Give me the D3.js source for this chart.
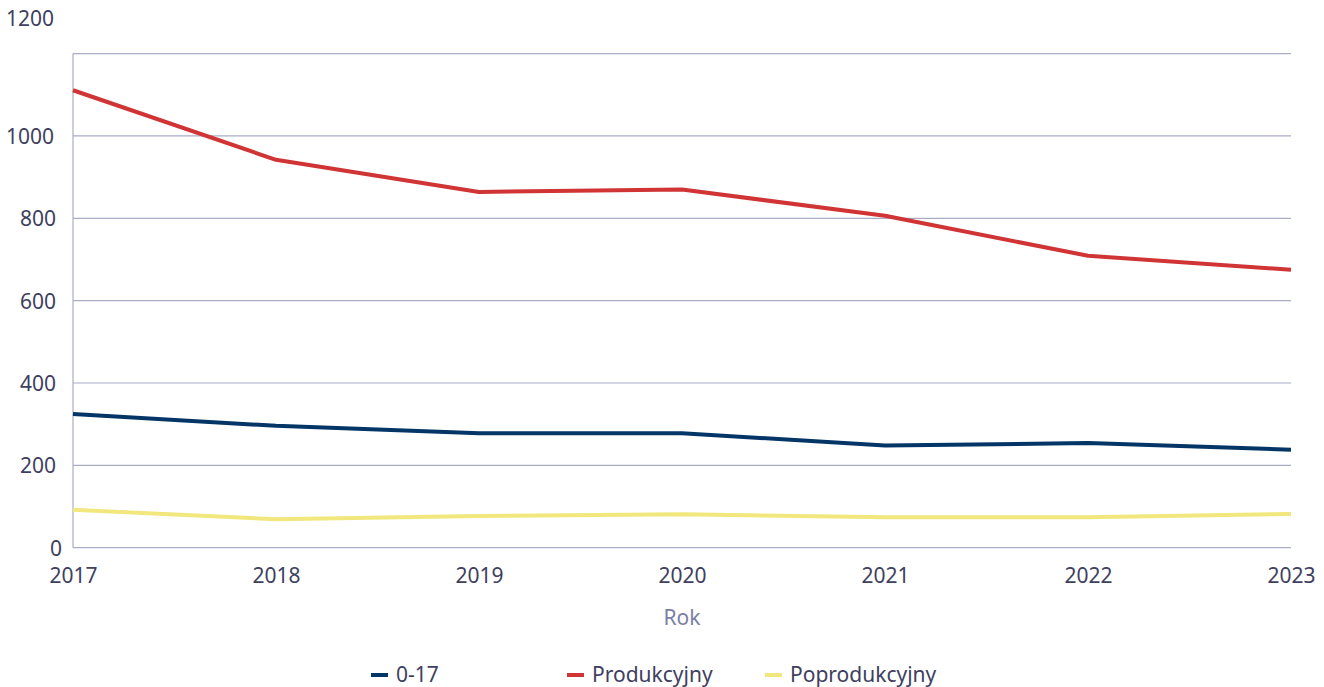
<!DOCTYPE html>
<html>
<head>
<meta charset="utf-8">
<script src="https://cdn.jsdelivr.net/npm/d3@7"></script>
<style>
  body { margin: 0; background: #fff; }
  svg text { font-family: "Noto Sans", "Open Sans", sans-serif; }
</style>
</head>
<body>
<div id="chart"></div>
<script>
// data
const years = ["2017", "2018", "2019", "2020", "2021", "2022", "2023"];
const youth = [325, 296, 278, 278, 248, 254, 238];          // 0-17
const working = [1111, 942, 864, 870, 806, 709, 675];       // Produkcyjny
const retired = [92, 69, 77, 81, 74, 74, 82];               // Poprodukcyjny
const yTicks = [0, 200, 400, 600, 800, 1000, 1200];

const seriesNames = ["0-17", "Produkcyjny", "Poprodukcyjny"];
const seriesValues = [youth, working, retired];
const colors = ["#033566", "#d03434", "#f1e77c"];

const W = 1324, H = 687;
const plotLeft = 73, plotRight = 1291, plotTop = 53.6, plotBottom = 547.7;

let svg = d3.select("#chart").append("svg")
    .attr("width", W)
    .attr("height", H);

let x = d3.scalePoint().domain(years).range([plotLeft, plotRight]);
let y = d3.scaleLinear().domain([0, 1200]).range([plotBottom, plotTop]);

// gridlines
svg.append("g")
    .selectAll("line").data(yTicks).enter().append("line")
        .attr("x1", plotLeft)
        .attr("x2", plotRight)
        .attr("y1", d => y(d))
        .attr("y2", d => y(d))
        .attr("stroke", "#aaacc6")
        .attr("stroke-width", 1.2);

// left axis line
svg.append("line")
    .attr("x1", plotLeft).attr("x2", plotLeft)
    .attr("y1", plotTop).attr("y2", plotBottom)
    .attr("stroke", "#aaacc6")
    .attr("stroke-width", 1.2);

// y axis labels
let yAxis = svg.append("g")
    .attr("transform", `translate(${plotLeft - 17},0)`)
    .call(d3.axisLeft(y).tickValues(yTicks).tickFormat(d3.format("d")).tickSize(0).tickPadding(0));
yAxis.select(".domain").remove();
yAxis.selectAll("text")
    .attr("fill", "#3e405e")
    .style("font-size", "21px")
    .attr("dy", "0.35em")
    .attr("x", d => d === 0 ? 6 : (d >= 1000 ? -2 : 0))
    .attr("y", d => d === 1200 ? 18 - y(1200) : 0);

// x axis labels
let xAxis = svg.append("g")
    .attr("transform", `translate(0,${plotBottom + 20})`)
    .call(d3.axisBottom(x).tickSize(0).tickPadding(0));
xAxis.select(".domain").remove();
xAxis.selectAll("text")
    .attr("fill", "#3e405e")
    .style("font-size", "21px")
    .attr("dy", "0.71em");

svg.append("text")
    .attr("x", (plotLeft + plotRight) / 2)
    .attr("y", 625)
    .attr("text-anchor", "middle")
    .attr("fill", "#7b7fa6")
    .style("font-size", "21px")
    .text("Rok");

// lines
let line = d3.line()
    .x((d, i) => x(years[i]))
    .y(d => y(d));

svg.append("g")
    .selectAll("path").data(seriesValues).enter().append("path")
        .attr("d", line)
        .attr("fill", "none")
        .attr("stroke", (d, i) => colors[i])
        .attr("stroke-width", 4)
        .attr("stroke-linejoin", "round");

// legend
const legendX = [371, 567, 765];
let legend = svg.append("g")
    .selectAll("g").data(seriesNames).enter().append("g")
        .attr("transform", (d, i) => `translate(${legendX[i]},675)`);
legend.append("line")
    .attr("x1", 0).attr("x2", 17)
    .attr("y1", 0).attr("y2", 0)
    .attr("stroke", (d, i) => colors[i])
    .attr("stroke-width", 4);
legend.append("text")
    .attr("x", 25)
    .attr("y", 0)
    .attr("dy", "0.35em")
    .attr("fill", "#3e405e")
    .style("font-size", "21px")
    .text(d => d);
</script>
</body>
</html>
